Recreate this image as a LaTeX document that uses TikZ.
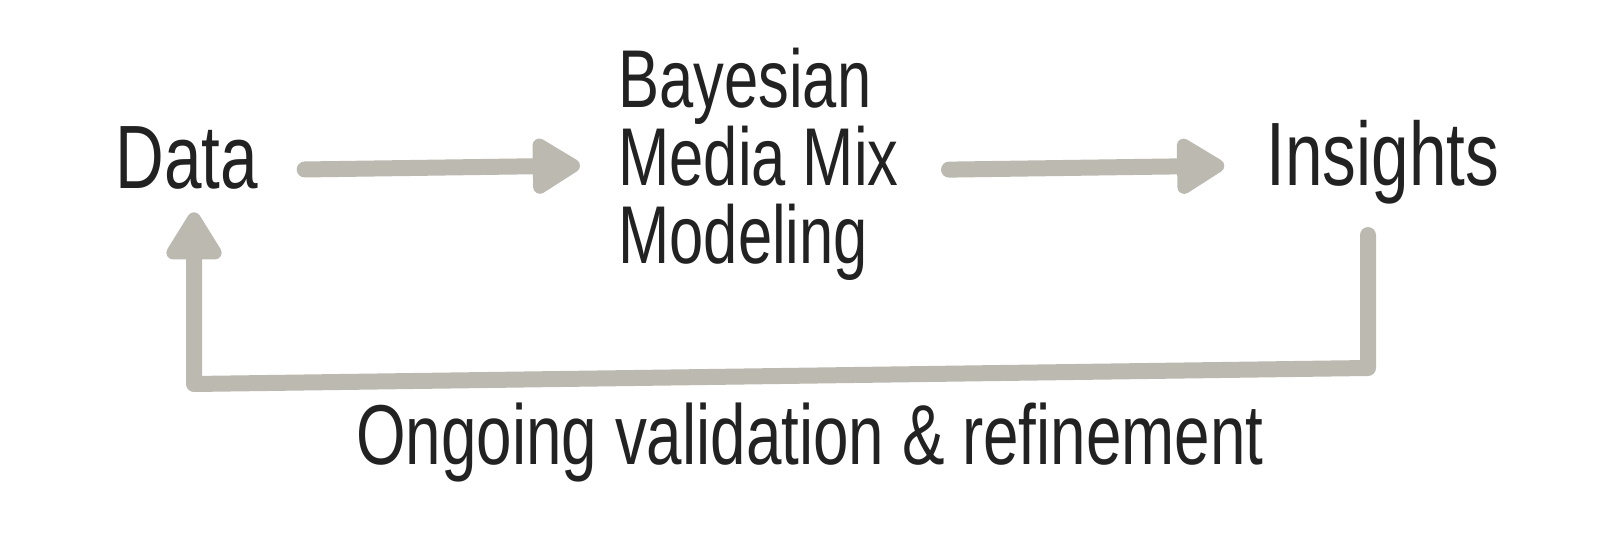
\documentclass[tikz,border=0pt]{standalone}
\usepackage{fontspec}
\newfontfamily\handfont[FakeStretch=0.75]{Liberation Sans}
\usetikzlibrary{arrows.meta,calc}
\definecolor{arrowgrey}{HTML}{BCB9B1}
\definecolor{inkblack}{HTML}{222222}
\begin{document}
\begin{tikzpicture}[x=0.5pt,y=-0.5pt,line cap=round,line join=round,>={Triangle[length=27pt,width=31pt,round]},
		flow/.style={->,color=arrowgrey,line width=8pt},
		word/.style={inner sep=0pt,text=inkblack,font=\handfont\fontsize{45}{45}\selectfont}]
		\useasboundingbox (0,0) rectangle (1601,539);
		\node[word,anchor=base] (data) at (187,189) {Data};
		\node[word,anchor=north west,align=left,font=\handfont\fontsize{41}{39}\selectfont] (model) at (618,48) {Bayesian\\Media Mix\\Modeling};
		\node[word,anchor=base] (insights) at (1383,186) {Insights};
		\node[word,anchor=base,font=\handfont\fontsize{42.5}{42.5}\selectfont] (loopnote) at (810,465) {Ongoing validation \& refinement};
		\coordinate (loopR) at (1368,368);
		\coordinate (loopL) at (194,384);
		\draw[flow] ($(data.east)+(46,11)$) -- ($(model.west)+(-38,1)$);
		\draw[flow] ($(model.east)+(50,5)$) -- ($(insights.west)+(-42,3)$);
		\draw[flow] ($(insights.south)+(-15,30)$) -- (loopR) -- (loopL) -- ($(data.south)+(7,22)$);
	\end{tikzpicture}
\end{document}
